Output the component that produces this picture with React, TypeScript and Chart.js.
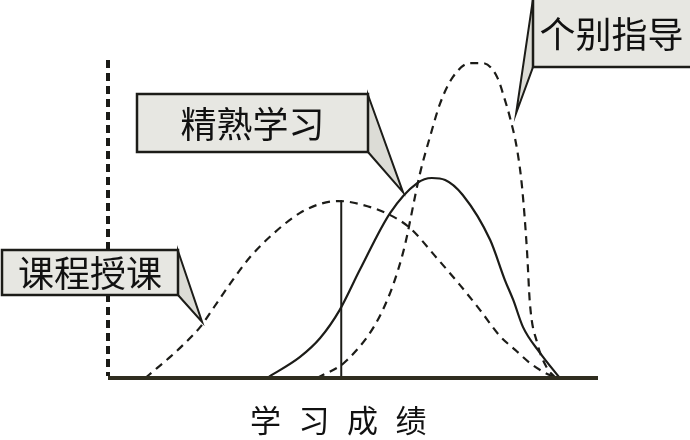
import React, { useEffect, useRef } from "react";
import { Chart, registerables } from "chart.js";

Chart.register(...registerables);

// Score axis (0–100) and frequency axis (0–100)
const lectureX = [7.6, 10.0, 12.7, 15.3, 18.8, 21.8, 24.9, 29.0, 34.1, 39.2, 43.3, 46.9, 50.4, 57.6, 61.6, 67.1, 71.8, 75.9, 80.0, 83.1, 86.1, 89.2, 91.8];
const lectureY = [0, 3.1, 6.6, 10.3, 15.9, 22.5, 29.4, 37.8, 45.6, 51.6, 54.4, 55.3, 54.7, 50.9, 46.9, 37.5, 29.1, 21.3, 13.1, 8.8, 4.7, 1.6, 0];

const masteryX = [32.4, 39.2, 43.3, 47.3, 51.4, 57.6, 63.1, 66.1, 68.8, 72.4, 78.0, 81.0, 82.7, 84.7, 88.2, 92.2];
const masteryY = [0, 6.6, 12.5, 21.3, 33.8, 51.6, 60.9, 62.5, 61.9, 57.2, 43.1, 30.6, 24.4, 15.9, 7.8, 0];

const tutoringX = [42.7, 48.8, 56.1, 60.2, 63.7, 65.7, 67.8, 70.4, 73.9, 76.5, 79.4, 81.0, 82.0, 83.5, 84.5, 85.5, 86.1, 87.6, 89.6, 91.4];
const tutoringY = [0, 5.6, 21.3, 39.1, 64.1, 75.3, 85.9, 94.1, 98.4, 98.4, 94.1, 86.9, 81.6, 71.3, 59.7, 40.0, 23.4, 10.9, 3.1, 0];

const meanX = [47.6, 47.6];
const meanY = [0, 55.6];

const seriesNames = ["课程授课", "精熟学习", "个别指导"];
const calloutTipX = [19.2, 60.2, 83.3];
const calloutTipY = [17.5, 58.1, 82.8];
const axisTitle = "学习成绩";

const toPts = (xs: number[], ys: number[]) => xs.map((x, i) => ({ x, y: ys[i] }));

// Layout of callout boxes (pixels): [left, top, right, bottom, tailSide]
const calloutBoxes: [number, number, number, number, string][] = [
  [2, 250, 178, 295, "right"],
  [137, 94, 368, 152, "right"],
  [533, -2, 694, 67, "left"],
];

const LINE = "#1c1c18";
const AXIS = "#2f2d1f";

const decorPlugin = {
  id: "decor",
  afterDatasetsDraw(chart: any) {
    const { ctx, scales, chartArea } = chart;
    const xs = scales.x;
    const ys = scales.y;
    const x0 = xs.getPixelForValue(0);
    const y0 = ys.getPixelForValue(0);
    ctx.save();
    // dotted vertical axis
    ctx.strokeStyle = "#1a1a16";
    ctx.lineWidth = 4;
    ctx.setLineDash([8, 5]);
    ctx.beginPath();
    ctx.moveTo(x0, chartArea.top + 2);
    ctx.lineTo(x0, y0 - 2);
    ctx.stroke();
    ctx.setLineDash([]);
    // solid horizontal axis
    ctx.strokeStyle = AXIS;
    ctx.lineWidth = 4;
    ctx.beginPath();
    ctx.moveTo(x0, y0);
    ctx.lineTo(xs.getPixelForValue(100), y0);
    ctx.stroke();

    // callouts
    calloutBoxes.forEach((b, i) => {
      const [l, t, r, bt, side] = b;
      const tx = xs.getPixelForValue(calloutTipX[i]);
      const ty = ys.getPixelForValue(calloutTipY[i]);
      const ex = side === "right" ? r : l;
      // tail
      ctx.beginPath();
      ctx.moveTo(ex, t + 1);
      ctx.lineTo(tx, ty);
      ctx.lineTo(ex, bt);
      ctx.closePath();
      ctx.fillStyle = "#dcdcd6";
      ctx.fill();
      ctx.strokeStyle = "#1c1c18";
      ctx.lineWidth = 2;
      ctx.lineJoin = "miter";
      ctx.stroke();
      // box
      ctx.fillStyle = "#e7e7e2";
      ctx.fillRect(l, t, r - l, bt - t);
      ctx.strokeStyle = "#1c1c18";
      ctx.lineWidth = 2.5;
      ctx.strokeRect(l, t, r - l, bt - t);
      // text
      ctx.fillStyle = "#111";
      ctx.font = "36px 'Noto Sans CJK SC'";
      ctx.textAlign = "center";
      ctx.textBaseline = "middle";
      ctx.fillText(seriesNames[i], (l + Math.min(r, 690)) / 2, (Math.max(t, 0) + bt) / 2 + 1);
    });

    // x axis title with letter spacing
    ctx.fillStyle = "#111";
    ctx.font = "31px 'Noto Sans CJK SC'";
    ctx.textAlign = "left";
    ctx.textBaseline = "middle";
    const chars = Array.from(axisTitle);
    const startX = 250;
    const pitch = 48.5;
    chars.forEach((c, i) => ctx.fillText(c, startX + i * pitch, 420));
    ctx.restore();
  },
};

export default function App() {
  const ref = useRef<HTMLCanvasElement>(null);
  useEffect(() => {
    document.body.style.margin = "0";
    const common = { fill: false, pointRadius: 0, borderColor: LINE, borderWidth: 2.2 };
    const chart = new Chart(ref.current!, {
      type: "line",
      data: {
        datasets: [
          { ...common, label: seriesNames[0], data: toPts(lectureX, lectureY), borderDash: [8, 6], cubicInterpolationMode: "monotone" },
          { ...common, label: seriesNames[1], data: toPts(masteryX, masteryY), cubicInterpolationMode: "monotone" },
          { ...common, label: seriesNames[2], data: toPts(tutoringX, tutoringY), borderDash: [8, 6], cubicInterpolationMode: "monotone" },
          { ...common, label: "mean", data: toPts(meanX, meanY), borderWidth: 2 },
        ] as any,
      },
      options: {
        animation: false,
        responsive: true,
        maintainAspectRatio: false,
        parsing: false as any,
        layout: { padding: { left: 108, right: 92, top: 58, bottom: 62 } },
        plugins: { legend: { display: false }, tooltip: { enabled: false } },
        scales: {
          x: { type: "linear", min: 0, max: 100, display: false },
          y: { type: "linear", min: 0, max: 100, display: false },
        },
      },
      plugins: [decorPlugin],
    });
    return () => chart.destroy();
  }, []);
  return (
    <div style={{ width: 690, height: 440, position: "relative", background: "#fff" }}>
      <canvas ref={ref} />
    </div>
  );
}
